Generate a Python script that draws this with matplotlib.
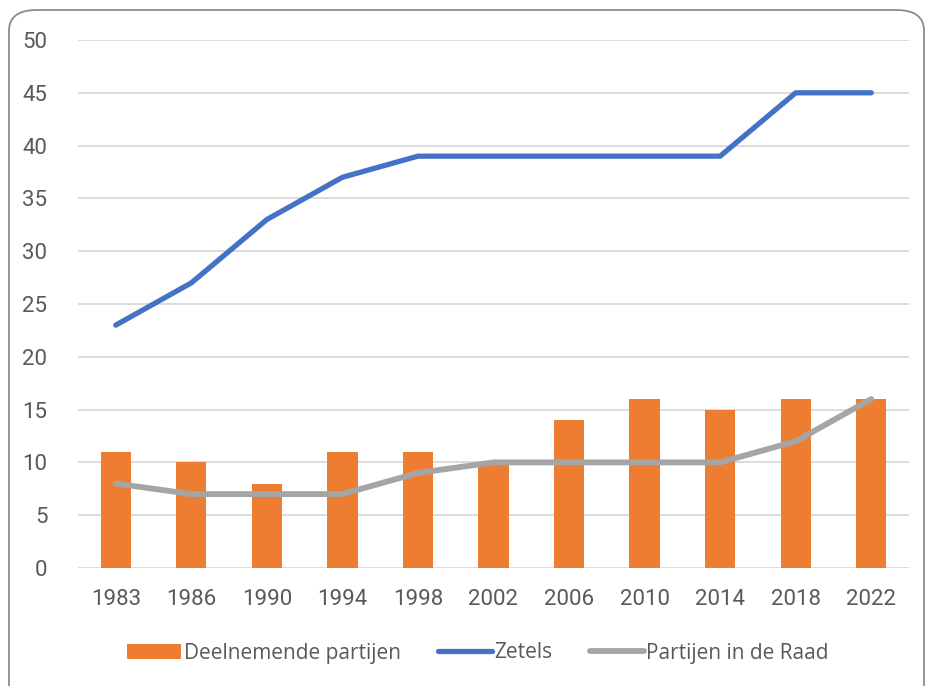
import numpy as np
import matplotlib
matplotlib.use("Agg")
import matplotlib.pyplot as plt
from matplotlib.patches import FancyBboxPatch

years = ["1983", "1986", "1990", "1994", "1998", "2002", "2006", "2010", "2014", "2018", "2022"]
deelnemende = [11, 10, 8, 11, 11, 10, 14, 16, 15, 16, 16]
zetels = [23, 27, 33, 37, 39, 39, 39, 39, 39, 45, 45]
partijen_raad = [8, 7, 7, 7, 9, 10, 10, 10, 10, 12, 16]

tick_font = ["Roboto", "DejaVu Sans"]
legend_font = ["Open Sans", "DejaVu Sans"]
txt_color = "#595959"

fig = plt.figure(figsize=(9.29, 6.86), dpi=100)
ax = fig.add_axes([78 / 929, 118 / 686, 831 / 929, 528 / 686])

# rounded chart frame
frame = FancyBboxPatch((9 / 929, -0.05), 915 / 929, 1.0 - 10 / 686 + 0.05,
                       boxstyle="round,pad=0,rounding_size=0.03",
                       transform=fig.transFigure, fill=False,
                       edgecolor="#8c8c8c", linewidth=1.3, clip_on=False)
fig.patches.append(frame)

x = np.arange(len(years))
b = ax.bar(x, deelnemende, width=0.4, color="#ED7D31", label="Deelnemende partijen", zorder=2)
l1, = ax.plot(x, zetels, color="#4472C4", linewidth=3.8, solid_capstyle="round",
              solid_joinstyle="round", label="Zetels", zorder=3)
l2, = ax.plot(x, partijen_raad, color="#A5A5A5", linewidth=4.2, solid_capstyle="round",
              solid_joinstyle="round", label="Partijen in de Raad", zorder=3)

ax.set_xlim(-0.5, len(years) - 0.5)
ax.set_ylim(0, 50)
ax.set_yticks(range(0, 51, 5))
ax.set_xticks(x)
ax.set_xticklabels(years)
ax.yaxis.grid(True, color="#d9d9d9", linewidth=1.3, zorder=0)
ax.set_axisbelow(True)
for s in ax.spines.values():
    s.set_visible(False)
ax.tick_params(axis="both", length=0, colors=txt_color, labelsize=16)
ax.tick_params(axis="y", pad=22)
ax.tick_params(axis="x", pad=15)
for lab in ax.get_xticklabels() + ax.get_yticklabels():
    lab.set_family(tick_font)

leg = fig.legend([b, l1, l2], ["Deelnemende partijen", "Zetels", "Partijen in de Raad"],
                 loc="center", bbox_to_anchor=(478 / 929, 1 - 653 / 686), ncol=3,
                 frameon=False, handlelength=2.6, handletextpad=0.1, columnspacing=1.8,
                 prop={"family": legend_font, "size": 15})
for t in leg.get_texts():
    t.set_color(txt_color)

fig.savefig("out.png", dpi=100)
